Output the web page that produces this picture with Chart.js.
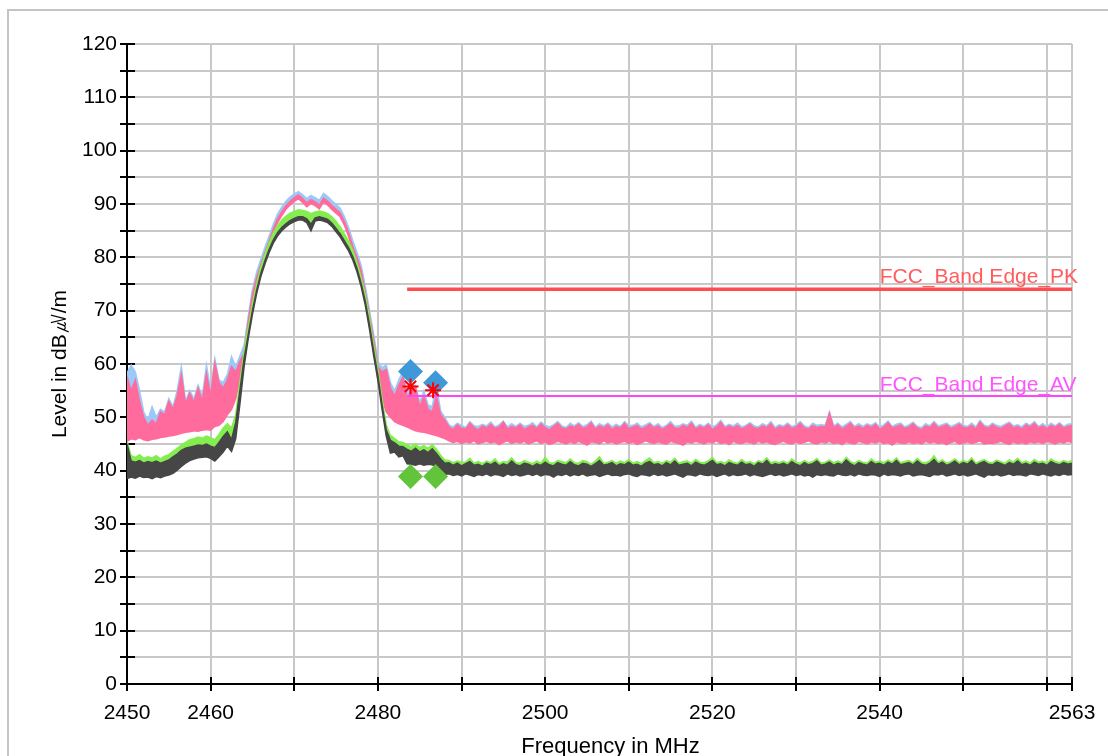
<!DOCTYPE html>
<html>
<head>
<meta charset="utf-8">
<script src="https://cdn.jsdelivr.net/npm/chart.js@4.4.1/dist/chart.umd.min.js"></script>
<style>
  html, body { margin: 0; padding: 0; width: 1108px; height: 756px; overflow: hidden; background: #fff; }
  #wrap { position: relative; width: 1108px; height: 780px; }
  #frame { position: absolute; left: 7px; top: 9px; width: 1200px; height: 900px; border: 2px solid #c4c4c4; box-sizing: border-box; }
  #chart { position: absolute; left: 0; top: 0; }
</style>
</head>
<body>
<div id="wrap">
  <div id="frame"></div>
  <canvas id="chart" width="1108" height="780"></canvas>
</div>
<script>
// sweep: 2450 .. 2563 MHz, one reading every 0.5 MHz
const startFreq = 2450;
const stepFreq = 0.5;

// peak max-hold (light blue), upper envelope
const peakBlueHi = [
  58.3, 59.8, 58.5, 55.0, 51.0, 49.5, 52.0, 50.0, 51.5, 51.0,
  53.5, 52.0, 55.0, 59.5, 53.0, 55.0, 53.5, 56.0, 54.0, 59.8,
  55.0, 61.0, 57.0, 56.5, 58.0, 61.4, 59.5, 61.5, 63.5, 69.0,
  74.0, 77.2, 79.6, 81.9, 84.0, 86.2, 88.1, 89.4, 90.5, 91.3,
  91.9, 92.3, 91.7, 91.0, 91.6, 91.2, 90.7, 92.0, 91.4, 90.6,
  89.9, 89.2, 87.6, 85.6, 83.1, 80.9, 78.5, 74.5, 70.0, 65.5,
  60.5, 59.3, 59.8, 56.5, 55.0, 57.0, 58.6, 54.5, 55.8, 56.0,
  52.8, 55.0, 52.3, 52.0, 56.0, 51.2, 50.0,
  48.6, 48.2, 48.9, 48.5, 48.1, 49.2, 48.4, 48.3, 48.7, 48.4,
  49.1, 48.2, 48.6, 49.3, 48.2, 48.8, 48.3, 48.9, 48.3, 48.5,
  49.0, 48.2, 49.1, 48.5, 48.2, 48.6, 49.2, 48.4, 48.1, 48.9,
  48.4, 49.0, 48.3, 48.6, 49.3, 48.1, 48.8, 48.4, 48.9, 48.2,
  48.7, 48.3, 49.2, 48.4, 48.5, 48.9, 48.2, 48.6, 49.0, 48.3,
  48.8, 48.1, 48.5, 49.2, 48.3, 48.4, 48.8, 48.5, 49.3, 48.1,
  48.7, 48.3, 48.9, 48.2, 48.6, 49.4, 48.3, 48.7, 48.4, 48.9,
  48.2, 48.5, 49.0, 48.4, 48.2, 48.8, 48.4, 49.2, 48.1, 48.6,
  48.4, 48.9, 48.3, 48.5, 49.2, 48.4, 48.1, 48.9, 48.5, 48.6,
  48.5, 51.0, 48.4, 48.9, 48.2, 48.7, 49.2, 48.3, 48.8, 48.3,
  48.8, 48.5, 49.0, 48.2, 48.6, 49.3, 48.3, 48.7, 48.9, 48.2,
  48.6, 49.1, 48.3, 48.1, 48.8, 48.4, 49.2, 48.4, 48.6, 48.9,
  48.3, 48.6, 49.0, 48.5, 48.3, 48.9, 48.2, 49.4, 48.5, 48.3,
  48.9, 48.5, 48.3, 48.7, 49.1, 48.4, 48.6, 48.2, 48.9, 48.5,
  49.2, 48.3, 48.8, 48.2, 48.9, 48.4, 49.0, 48.3, 48.7, 48.8
];

// peak trace (pink), upper and lower envelope
const peakHi = [
  57.6, 55.0, 57.0, 53.0, 50.0, 48.5, 49.5, 48.8, 51.0, 50.5,
  53.0, 51.5, 54.0, 58.0, 52.5, 54.5, 52.8, 55.5, 53.0, 58.2,
  54.0, 60.2, 56.5, 55.5, 57.0, 59.5, 58.5, 60.5, 62.0, 68.0,
  73.0, 76.2, 78.6, 80.9, 83.0, 85.3, 87.2, 88.5, 89.7, 90.5,
  91.2, 91.7, 91.0, 90.2, 90.8, 90.4, 89.8, 91.1, 90.5, 89.7,
  89.0, 88.3, 86.7, 84.6, 82.0, 80.0, 77.5, 73.5, 69.0, 64.5,
  59.5, 58.5, 59.0, 55.5, 54.0, 56.0, 57.5, 53.5, 55.0, 55.5,
  52.0, 53.9, 51.5, 51.0, 53.9, 50.5, 49.5,
  48.2, 47.7, 48.6, 48.0, 47.8, 48.9, 48.1, 47.6, 48.4, 48.0,
  48.7, 47.9, 48.2, 49.1, 47.8, 48.3, 48.0, 48.6, 47.7, 48.2,
  48.5, 47.9, 48.8, 48.1, 47.6, 48.3, 48.9, 48.0, 47.8, 48.4,
  48.1, 48.7, 47.9, 48.2, 49.0, 47.8, 48.4, 48.0, 48.6, 47.7,
  48.3, 48.0, 48.9, 47.9, 48.2, 48.5, 47.8, 48.1, 48.7, 48.0,
  48.4, 47.7, 48.2, 48.8, 48.0, 47.9, 48.5, 48.1, 48.9, 47.8,
  48.3, 48.0, 48.6, 47.7, 48.2, 49.1, 47.9, 48.4, 48.0, 48.5,
  47.8, 48.2, 48.7, 48.0, 47.9, 48.4, 48.1, 48.8, 47.7, 48.3,
  48.0, 48.6, 47.9, 48.2, 48.9, 48.0, 47.8, 48.5, 48.1, 48.3,
  48.2, 50.8, 48.0, 48.6, 47.8, 48.3, 48.9, 48.0, 48.4, 47.9,
  48.5, 48.1, 48.7, 47.8, 48.2, 49.0, 48.0, 48.3, 48.6, 47.9,
  48.2, 48.8, 48.0, 47.7, 48.4, 48.1, 48.9, 48.0, 48.3, 48.6,
  47.9, 48.2, 48.7, 48.1, 48.0, 48.5, 47.8, 49.1, 48.2, 48.0,
  48.6, 48.1, 47.9, 48.4, 48.8, 48.0, 48.3, 47.8, 48.6, 48.2,
  48.9, 48.0, 48.4, 47.9, 48.5, 48.1, 48.7, 48.0, 48.3, 48.5
];
const peakLo = [
  45.5, 46.0, 45.8, 46.2, 45.8, 45.6, 45.9, 46.0, 46.2, 46.3,
  46.5, 46.6, 46.8, 47.0, 47.2, 47.3, 47.5, 47.4, 47.6, 47.7,
  47.6, 48.3, 48.5, 49.2, 50.5, 51.5, 53.5, 57.5, 61.2, 67.3,
  72.3, 75.5, 77.9, 80.2, 82.3, 84.6, 86.5, 87.8, 89.0, 89.8,
  90.5, 91.0, 90.3, 89.5, 90.1, 89.7, 89.1, 90.4, 89.8, 89.0,
  88.3, 87.6, 86.0, 83.9, 81.3, 79.3, 76.8, 72.8, 68.3, 63.8,
  57.0, 53.5, 51.0, 50.0, 49.2, 48.8, 48.5, 48.2, 47.8, 47.5,
  47.3, 47.2, 47.0, 46.8, 46.6, 46.3, 46.0,
  45.6, 45.3, 45.5, 45.1, 45.4, 45.2, 45.6, 45.0, 45.3, 45.5,
  45.2, 45.4, 44.9, 45.3, 45.6, 45.1, 45.4, 45.2, 45.5, 45.0,
  45.3, 45.6, 45.1, 45.4, 44.9, 45.2, 45.5, 45.3, 45.0, 45.4,
  45.1, 45.5, 45.2, 44.8, 45.4, 45.3, 45.0, 45.6, 45.2, 45.4,
  45.0, 45.3, 45.5, 45.1, 45.4, 44.9, 45.2, 45.6, 45.3, 45.1,
  45.4, 45.2, 45.0, 45.5, 45.3, 45.1, 44.8, 45.4, 45.2, 45.5,
  45.3, 45.0, 45.4, 45.2, 45.6, 45.1, 45.3, 44.9, 45.5, 45.2,
  45.1, 45.4, 45.3, 45.0, 45.5, 45.2, 45.4, 45.1, 44.9, 45.3,
  45.5, 45.2, 45.0, 45.4, 45.1, 45.3, 45.6, 45.2, 45.0, 45.4,
  45.2, 45.5, 45.1, 45.3, 44.9, 45.4, 45.2, 45.0, 45.5, 45.3,
  45.0, 45.4, 45.2, 45.5, 45.1, 45.3, 44.8, 45.4, 45.2, 45.1,
  45.4, 45.1, 45.3, 45.0, 45.5, 45.2, 45.4, 45.1, 45.3, 44.9,
  45.3, 45.5, 45.0, 45.2, 45.4, 45.1, 45.3, 45.6, 45.0, 45.2,
  45.1, 45.3, 45.5, 45.2, 44.9, 45.4, 45.1, 45.3, 45.0, 45.4,
  45.2, 45.4, 45.1, 45.5, 45.3, 45.0, 45.4, 45.2, 45.5, 45.3
];

// average max-hold (green), upper envelope
const avgGreenHi = [
  45.5, 42.8, 42.5, 43.0, 42.3, 42.6, 42.4, 42.8, 42.2, 42.7,
  43.0, 43.6, 44.2, 44.8, 45.3, 45.8, 46.0, 46.3, 46.1, 46.5,
  46.2, 45.8, 46.8, 48.0, 48.8, 48.0, 50.5, 56.5, 62.3, 66.8,
  71.2, 74.9, 78.2, 80.6, 82.7, 84.6, 85.9, 87.0, 87.7, 88.3,
  88.6, 88.9, 88.8, 88.6, 88.2, 88.5, 88.7, 88.5, 88.2, 87.6,
  86.7, 85.7, 84.4, 83.0, 81.3, 79.0, 76.2, 72.9, 68.5, 63.5,
  59.0, 53.5, 48.6, 46.6, 46.0, 45.4, 45.3, 44.8, 44.5, 45.0,
  44.3, 44.7, 44.2, 44.9, 44.0, 42.9, 42.0,
  41.9, 41.5, 41.8, 41.6, 41.6, 42.3, 41.4, 41.7, 41.3, 41.8,
  41.5, 42.2, 41.3, 41.7, 41.6, 42.4, 41.5, 41.4, 41.9, 41.6,
  41.3, 41.8, 41.4, 42.5, 41.5, 41.4, 41.9, 41.7, 41.5, 42.2,
  41.5, 41.4, 41.9, 41.7, 41.2, 41.8, 42.6, 41.4, 41.6, 41.9,
  41.4, 41.8, 41.5, 42.1, 41.4, 41.7, 41.3, 41.9, 42.4, 41.5,
  41.7, 41.4, 41.9, 41.6, 42.3, 41.4, 41.7, 41.8, 41.4, 42.1,
  41.6, 41.5, 41.8, 42.5, 41.5, 41.7, 41.4, 42.0, 41.6, 41.4,
  42.1, 41.5, 41.7, 41.3, 41.9, 41.6, 42.4, 41.5, 41.7, 41.5,
  41.8, 41.4, 42.2, 41.6, 41.4, 41.9, 41.5, 41.7, 42.3, 41.4,
  41.6, 42.0, 41.5, 41.8, 41.5, 42.5, 41.7, 41.4, 41.9, 41.6,
  41.4, 42.2, 41.6, 41.8, 41.5, 42.0, 41.6, 42.4, 41.5, 41.7,
  41.9, 41.5, 42.3, 41.6, 41.5, 41.8, 42.8, 41.6, 42.0, 41.4,
  41.7, 42.2, 41.5, 41.9, 41.6, 42.4, 41.4, 41.8, 42.1, 41.6,
  41.5, 42.0, 41.7, 41.4, 42.0, 41.6, 42.3, 41.5, 41.8, 41.4,
  42.1, 41.6, 41.8, 41.4, 42.2, 41.7, 41.5, 41.9, 41.6, 41.9
];

// average trace (dark grey), upper and lower envelope
const avgHi = [
  45.0, 41.8, 41.6, 41.9, 41.4, 41.7, 41.5, 41.8, 41.4, 41.7,
  42.0, 42.6, 43.1, 43.8, 44.2, 44.4, 44.6, 44.8, 44.7, 45.0,
  44.6, 44.3, 45.3, 46.4, 47.3, 45.8, 49.0, 55.0, 61.0, 65.5,
  70.0, 73.8, 77.0, 79.4, 81.5, 83.3, 84.6, 85.6, 86.3, 86.9,
  87.3, 87.6, 87.6, 87.2, 86.2, 87.4, 87.6, 87.4, 87.1, 86.4,
  85.4, 84.4, 83.1, 81.8, 80.1, 77.9, 75.1, 71.7, 67.3, 62.3,
  57.8, 52.3, 47.6, 45.7, 45.2, 44.6, 44.5, 44.0, 43.6, 44.2,
  43.5, 43.9, 43.4, 44.1, 43.2, 42.2, 41.4,
  41.5, 41.0, 41.4, 40.9, 41.3, 41.7, 41.0, 41.2, 40.8, 41.4,
  41.1, 41.6, 40.9, 41.3, 41.0, 41.8, 41.1, 40.9, 41.4, 41.2,
  40.8, 41.3, 41.0, 41.6, 41.1, 40.9, 41.5, 41.2, 41.0, 41.7,
  41.1, 40.9, 41.4, 41.2, 40.8, 41.3, 41.9, 41.0, 41.2, 41.5,
  40.9, 41.3, 41.1, 41.6, 41.0, 41.2, 40.8, 41.4, 41.7, 41.1,
  41.3, 40.9, 41.5, 41.1, 41.8, 41.0, 41.2, 41.4, 40.9, 41.6,
  41.2, 41.0, 41.4, 41.9, 41.1, 41.3, 40.9, 41.5, 41.2, 41.0,
  41.6, 41.1, 41.3, 40.8, 41.5, 41.2, 41.9, 41.0, 41.3, 41.1,
  41.4, 41.0, 41.7, 41.2, 40.9, 41.5, 41.1, 41.3, 41.8, 41.0,
  41.2, 41.6, 41.0, 41.4, 41.1, 42.0, 41.3, 40.9, 41.5, 41.2,
  41.0, 41.7, 41.2, 41.4, 41.0, 41.6, 41.2, 41.9, 41.1, 41.3,
  41.5, 41.1, 41.8, 41.2, 41.0, 41.4, 42.1, 41.2, 41.6, 41.0,
  41.3, 41.8, 41.1, 41.5, 41.2, 41.9, 41.0, 41.4, 41.7, 41.2,
  41.1, 41.6, 41.3, 41.0, 41.5, 41.2, 41.8, 41.1, 41.4, 41.0,
  41.6, 41.2, 41.4, 41.0, 41.7, 41.3, 41.1, 41.5, 41.2, 41.4
];
const avgLo = [
  38.5, 38.8, 38.6, 39.0, 38.7, 38.8, 38.5, 38.9, 38.7, 39.0,
  39.2, 39.5, 40.1, 40.8, 41.4, 41.9, 42.2, 42.4, 42.5, 42.6,
  42.3, 41.8, 42.6, 43.5, 44.6, 43.6, 46.0, 52.5, 59.5, 64.8,
  69.3, 73.2, 76.4, 78.8, 80.9, 82.7, 84.0, 85.0, 85.7, 86.3,
  86.7, 87.0, 87.0, 86.5, 85.0, 86.8, 87.0, 86.8, 86.5, 85.8,
  84.8, 83.8, 82.5, 81.2, 79.5, 77.3, 74.5, 71.0, 66.5, 61.5,
  57.0, 51.5, 46.5, 43.3, 43.5, 42.6, 42.8, 41.3, 41.2, 41.0,
  41.3, 41.0, 41.2, 41.1, 40.8, 40.0, 39.3,
  39.4, 39.1, 39.3, 39.0, 39.4, 39.2, 38.9, 39.3, 39.1, 39.4,
  39.0, 39.3, 39.2, 38.9, 39.4, 39.1, 39.3, 39.0, 39.2, 39.4,
  39.1, 39.4, 39.0, 39.3, 39.2, 38.8, 39.3, 39.1, 39.4, 39.0,
  39.3, 39.1, 39.4, 39.0, 39.2, 39.3, 38.9, 39.2, 39.4, 39.1,
  39.2, 39.0, 39.3, 39.4, 39.1, 38.9, 39.3, 39.2, 39.0, 39.4,
  39.1, 39.3, 39.0, 39.2, 39.4, 39.1, 38.8, 39.3, 39.2, 39.0,
  39.4, 39.2, 39.1, 39.3, 38.9, 39.2, 39.4, 39.0, 39.3, 39.1,
  39.2, 39.4, 39.0, 39.3, 39.1, 38.9, 39.2, 39.4, 39.1, 39.3,
  39.0, 39.2, 39.4, 39.1, 39.3, 39.0, 39.2, 38.8, 39.3, 39.1,
  39.3, 39.1, 39.0, 39.4, 39.2, 39.1, 39.3, 39.0, 39.4, 39.2,
  39.1, 39.3, 39.2, 38.9, 39.4, 39.1, 39.3, 39.2, 39.0, 39.3,
  39.4, 39.0, 39.2, 39.3, 39.1, 38.9, 39.3, 39.2, 39.4, 39.0,
  39.2, 39.4, 39.1, 39.3, 39.0, 39.2, 39.4, 39.1, 38.8, 39.3,
  39.1, 39.3, 39.0, 39.2, 39.4, 39.1, 39.3, 39.2, 39.0, 39.4,
  39.3, 39.1, 39.4, 39.2, 39.0, 39.3, 39.1, 39.4, 39.2, 39.3
];

// limit lines
const limitFreqs = [2483.5, 2563];
const limitPK = [74, 74];
const limitAV = [54, 54];

// final measurement markers
const markerFreqs = [2483.9, 2486.9];
const markerPK = [58.6, 56.5];
const markerAV = [38.9, 38.9];
const markerStarFreqs = [2483.9, 2486.6];
const markerStar = [55.8, 55.1];

// axis ticks
const xTickValues = [2450, 2460, 2470, 2480, 2490, 2500, 2510, 2520, 2530, 2540, 2550, 2560, 2563];
const xTickLabels = [2450, 2460, 2480, 2500, 2520, 2540, 2563];

const freqs = peakHi.map((_, i) => startFreq + i * stepFreq);
const pts = arr => arr.map((v, i) => ({ x: freqs[i], y: v }));
const pairs = (xs, ys) => xs.map((x, i) => ({ x: x, y: ys[i] }));

const BLUE = '#9cc9f7', PINK = '#ff6b9c', GREEN = '#84ee50', DARK = '#464646';

const trace = (data, color, fill) => ({
  data: data, borderColor: color, backgroundColor: color, fill: fill,
  borderWidth: 1.5, pointRadius: 0, tension: 0
});

const chartDecor = {
  id: 'chartDecor',
  beforeDatasetsDraw(chart) {
    const { ctx, scales: { x, y } } = chart;
    ctx.save();
    ctx.strokeStyle = '#000';
    ctx.lineWidth = 2;
    ctx.beginPath();
    y.ticks.forEach(t => {
      const py = Math.round(y.getPixelForValue(t.value));
      ctx.moveTo(x.left - 7, py);
      ctx.lineTo(x.left + 8, py);
    });
    x.ticks.forEach(t => {
      const px = Math.round(x.getPixelForValue(t.value));
      ctx.moveTo(px, y.bottom - 7);
      ctx.lineTo(px, y.bottom + 7);
    });
    ctx.stroke();
    ctx.restore();
  },
  afterDatasetsDraw(chart) {
    const { ctx, scales: { x, y } } = chart;
    ctx.save();
    ctx.font = "21px 'Liberation Sans', Arial, sans-serif";
    ctx.textAlign = 'left';
    ctx.textBaseline = 'alphabetic';
    ctx.fillStyle = '#ff5c5c';
    ctx.fillText('FCC_Band Edge_PK', x.getPixelForValue(2540), y.getPixelForValue(limitPK[0]) - 6);
    ctx.fillStyle = '#ff55ff';
    ctx.fillText('FCC_Band Edge_AV', x.getPixelForValue(2540), y.getPixelForValue(limitAV[0]) - 5);
    // x axis title, sits a little right of the plot centre in the original
    ctx.fillStyle = '#000';
    ctx.font = "22px 'Liberation Sans', Arial, sans-serif";
    ctx.textAlign = 'center';
    ctx.textBaseline = 'middle';
    ctx.fillText('Frequency in MHz', (x.left + x.right) / 2 + 11, 747);
    ctx.restore();
  }
};

Chart.defaults.font.family = "'Liberation Sans', Arial, sans-serif";
Chart.defaults.font.size = 21;
Chart.defaults.color = '#000';

new Chart(document.getElementById('chart'), {
  type: 'line',
  data: {
    datasets: [
      { data: pairs(markerStarFreqs, markerStar), showLine: false, pointStyle: 'star', pointRadius: 8,
        borderColor: '#ff0000', backgroundColor: '#ff0000', pointBorderWidth: 2 },
      { data: pairs(markerFreqs, markerPK), showLine: false, pointStyle: 'rectRot', pointRadius: 12.5,
        borderColor: '#3f98d8', backgroundColor: '#3f98d8', pointBorderWidth: 0 },
      { data: pairs(markerFreqs, markerAV), showLine: false, pointStyle: 'rectRot', pointRadius: 12.5,
        borderColor: '#62c43a', backgroundColor: '#62c43a', pointBorderWidth: 0 },
      { data: pairs(limitFreqs, limitPK), borderColor: '#ff4d4d', borderWidth: 3.5, pointRadius: 0, fill: false },
      { data: pairs(limitFreqs, limitAV), borderColor: '#ff44ff', borderWidth: 2, pointRadius: 0, fill: false },
      trace(pts(avgHi), DARK, '+1'),
      trace(pts(avgLo), DARK, false),
      trace(pts(avgGreenHi), GREEN, '-1'),
      trace(pts(peakHi), PINK, '+1'),
      trace(pts(peakLo), PINK, false),
      trace(pts(peakBlueHi), BLUE, '-1')
    ]
  },
  options: {
    responsive: false,
    animation: false,
    layout: { padding: { left: 48, top: 44, right: 36, bottom: 0 } },
    plugins: { legend: { display: false }, tooltip: { enabled: false } },
    scales: {
      x: {
        type: 'linear', min: 2450, max: 2563,
        afterBuildTicks: s => { s.ticks = xTickValues.map(v => ({ value: v })); },
        afterFit: s => { s.height = 96; },
        ticks: {
          autoSkip: false, maxRotation: 0, padding: 3,
          callback: v => xTickLabels.includes(v) ? String(v) : ''
        },
        grid: { color: '#c8c8c8', lineWidth: 2, drawTicks: true, tickLength: 14, tickColor: 'rgba(0,0,0,0)' },
        border: { color: '#000', width: 2 }
      },
      y: {
        min: 0, max: 120,
        afterFit: s => { s.width = 79; },
        ticks: {
          stepSize: 5, autoSkip: false, padding: 10,
          callback: v => v % 10 === 0 ? String(v) : ''
        },
        grid: { color: '#c8c8c8', lineWidth: 2, drawTicks: false },
        border: { color: '#000', width: 2 },
        title: { display: true, text: 'Level in dB㎶/m', padding: { top: 0, bottom: 0 } }
      }
    }
  },
  plugins: [chartDecor]
});
</script>
</body>
</html>
